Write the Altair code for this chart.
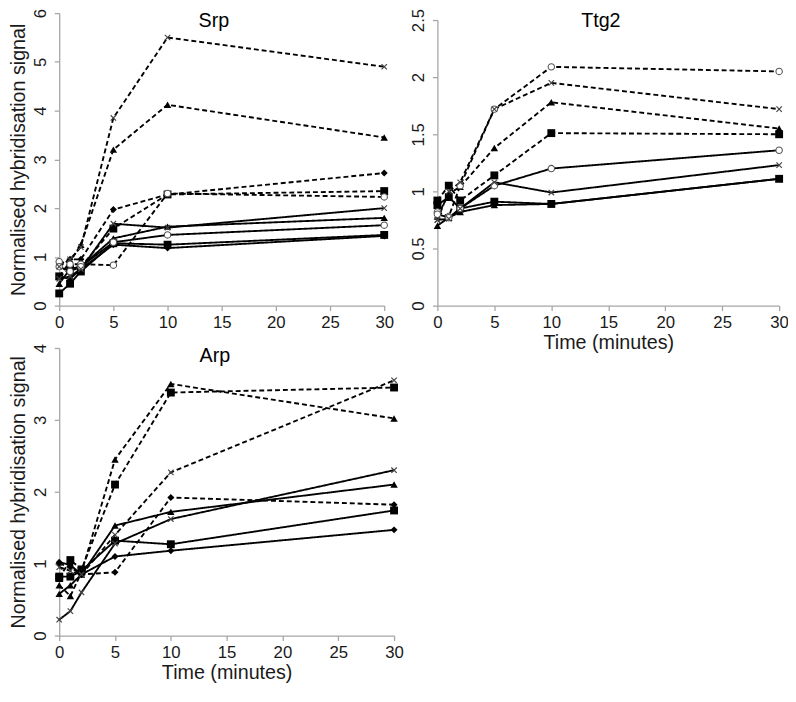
import altair as alt
import pandas as pd

TIME = [0, 1, 2, 5, 10, 30]
X_TICKS = [0, 5, 10, 15, 20, 25, 30]

# ---- Srp ----
srp_dash_x = [0.8, 0.95, 1.2, 3.85, 5.5, 4.9]
srp_dash_tri = [0.6, 0.9, 1.25, 3.2, 4.12, 3.45]
srp_dash_dia = [0.85, 0.95, 0.95, 1.97, 2.28, 2.72]
srp_dash_sq = [0.6, 0.75, 0.8, 1.58, 2.28, 2.35]
srp_dash_circ = [0.9, 0.85, 0.85, 0.83, 2.3, 2.23]
srp_solid_x = [0.55, 0.6, 0.75, 1.68, 1.6, 2.0]
srp_solid_tri = [0.45, 0.75, 0.8, 1.38, 1.62, 1.8]
srp_solid_circ = [0.8, 0.7, 0.8, 1.3, 1.45, 1.65]
srp_solid_sq = [0.25, 0.45, 0.7, 1.28, 1.25, 1.45]
srp_solid_dia = [0.6, 0.55, 0.75, 1.25, 1.18, 1.43]

# ---- Ttg2 ----
ttg_dash_circ = [0.82, 0.78, 1.05, 1.72, 2.09, 2.05]
ttg_dash_x = [0.75, 1.0, 1.08, 1.72, 1.95, 1.72]
ttg_dash_tri = [0.78, 0.98, 1.04, 1.38, 1.78, 1.55]
ttg_dash_sq = [0.92, 1.05, 0.92, 1.14, 1.51, 1.5]
ttg_solid_circ = [0.8, 0.77, 0.85, 1.05, 1.2, 1.36]
ttg_solid_x = [0.75, 0.76, 0.85, 1.08, 0.99, 1.23]
ttg_solid_sq = [0.88, 0.95, 0.85, 0.91, 0.89, 1.11]
ttg_solid_tri = [0.7, 0.77, 0.82, 0.88, 0.89, 1.11]

# ---- Arp ----
arp_dash_tri = [0.7, 0.55, 0.88, 2.45, 3.5, 3.02]
arp_dash_sq = [0.8, 1.05, 0.92, 2.1, 3.38, 3.45]
arp_dash_x = [0.95, 0.9, 0.85, 1.4, 2.27, 3.55]
arp_dash_dia = [1.0, 0.95, 0.85, 0.88, 1.92, 1.82]
arp_solid_x = [0.22, 0.34, 0.6, 1.28, 1.62, 2.3]
arp_solid_tri = [0.58, 0.7, 0.85, 1.53, 1.72, 2.1]
arp_solid_sq = [0.82, 0.82, 0.9, 1.32, 1.27, 1.74]
arp_solid_dia = [1.02, 0.98, 0.85, 1.1, 1.18, 1.47]

SRP_SERIES = [
    ("dash_x", "x", "dashed", srp_dash_x),
    ("dash_tri", "triangle", "dashed", srp_dash_tri),
    ("dash_dia", "diamond", "dashed", srp_dash_dia),
    ("dash_sq", "square", "dashed", srp_dash_sq),
    ("dash_circ", "circle", "dashed", srp_dash_circ),
    ("solid_x", "x", "solid", srp_solid_x),
    ("solid_tri", "triangle", "solid", srp_solid_tri),
    ("solid_circ", "circle", "solid", srp_solid_circ),
    ("solid_sq", "square", "solid", srp_solid_sq),
    ("solid_dia", "diamond", "solid", srp_solid_dia),
]
TTG_SERIES = [
    ("dash_circ", "circle", "dashed", ttg_dash_circ),
    ("dash_x", "x", "dashed", ttg_dash_x),
    ("dash_tri", "triangle", "dashed", ttg_dash_tri),
    ("dash_sq", "square", "dashed", ttg_dash_sq),
    ("solid_circ", "circle", "solid", ttg_solid_circ),
    ("solid_x", "x", "solid", ttg_solid_x),
    ("solid_sq", "square", "solid", ttg_solid_sq),
    ("solid_tri", "triangle", "solid", ttg_solid_tri),
]
ARP_SERIES = [
    ("dash_tri", "triangle", "dashed", arp_dash_tri),
    ("dash_sq", "square", "dashed", arp_dash_sq),
    ("dash_x", "x", "dashed", arp_dash_x),
    ("dash_dia", "diamond", "dashed", arp_dash_dia),
    ("solid_x", "x", "solid", arp_solid_x),
    ("solid_tri", "triangle", "solid", arp_solid_tri),
    ("solid_sq", "square", "solid", arp_solid_sq),
    ("solid_dia", "diamond", "solid", arp_solid_dia),
]

FONT = "Liberation Sans"
X_PATH = "M-1,-1L1,1M-1,1L1,-1"


def frame(series):
    rows = []
    for name, marker, style, vals in series:
        for t, v in zip(TIME, vals):
            rows.append({"time": t, "value": v, "series": name, "marker": marker, "style": style})
    return pd.DataFrame(rows)


def panel(series, title, ymax, ystep_vals, width, height, ytitle, xtitle, title_x, title_y, yrange=None):
    df = frame(series)
    base = alt.Chart(df)
    xaxis_kw = dict(values=X_TICKS, labelFlush=False, grid=False, tickSize=5, labelPadding=4, titlePadding=3)
    xaxis_kw["title"] = xtitle if xtitle else None
    yaxis_kw = dict(values=ystep_vals, format="~g", labelAngle=270, grid=False, tickSize=5,
                    labelPadding=5, titlePadding=3)
    yaxis_kw["title"] = ytitle if ytitle else None
    yscale_kw = dict(domain=[0, ymax], nice=False, zero=True)
    if yrange is not None:
        yscale_kw["range"] = yrange
    x = alt.X("time:Q", scale=alt.Scale(domain=[0, 30], nice=False), axis=alt.Axis(**xaxis_kw))
    y = alt.Y("value:Q", scale=alt.Scale(**yscale_kw), axis=alt.Axis(**yaxis_kw))

    lines = base.mark_line(color="black", strokeWidth=1.9).encode(
        x=x, y=y, detail="series:N",
        strokeDash=alt.StrokeDash("style:N", scale=alt.Scale(domain=["dashed", "solid"], range=[[5, 3], [1, 0]]), legend=None),
    )
    filled = base.transform_filter(
        alt.FieldOneOfPredicate(field="marker", oneOf=["square", "triangle", "diamond"])
    ).mark_point(filled=True, color="black", opacity=1).encode(
        x=x, y=y,
        shape=alt.Shape("marker:N", scale=alt.Scale(domain=["square", "triangle", "diamond"],
                                                    range=["square", "triangle-up", "diamond"]), legend=None),
        size=alt.Size("marker:N", scale=alt.Scale(domain=["square", "triangle", "diamond"], range=[64, 50, 32]), legend=None),
    )
    circles = base.transform_filter(alt.datum.marker == "circle").mark_point(
        shape="circle", filled=True, fill="white", stroke="#555555", strokeWidth=1.1, size=42, opacity=1
    ).encode(x=x, y=y)
    crosses = base.transform_filter(alt.datum.marker == "x").mark_point(
        shape=X_PATH, filled=False, stroke="#444444", strokeWidth=1.2, size=30, opacity=1
    ).encode(x=x, y=y)
    ttl = alt.Chart(pd.DataFrame({"t": [title]})).mark_text(
        font=FONT, fontSize=20, color="black", align="center", baseline="top"
    ).encode(text="t:N", x=alt.value(title_x), y=alt.value(title_y))
    return alt.layer(lines, filled, circles, crosses, ttl).properties(width=width, height=height)


YT = "Normalised hybridisation signal"
srp = panel(SRP_SERIES, "Srp", 6, [0, 1, 2, 3, 4, 5, 6], 330, 297, YT, None, 157, -2)
ttg = panel(TTG_SERIES, "Ttg2", 2.5, [0, 0.5, 1, 1.5, 2, 2.5], 347, 297, None, "Time (minutes)", 166, -2,
            yrange=[297, 7])
arp = panel(ARP_SERIES, "Arp", 4, [0, 1, 2, 3, 4], 340, 292, YT, "Time (minutes)", 158, -2)

chart = alt.concat(srp, ttg, arp, columns=2, spacing={"row": 43, "column": 44}, bounds="flush").properties(
    padding={"left": 0, "top": -5, "right": -1, "bottom": -3}
).configure_view(stroke=None).configure_axis(
    domainColor="#a6a6a6", tickColor="#a6a6a6", labelFont=FONT, titleFont=FONT,
    labelFontSize=17, titleFontSize=20, titleFontWeight="normal", labelColor="#1a1a1a",
    titleColor="#1a1a1a", domainWidth=1.3, tickWidth=1.3
)

chart.save("out.html", embed_options={"renderer": "svg", "actions": False})
